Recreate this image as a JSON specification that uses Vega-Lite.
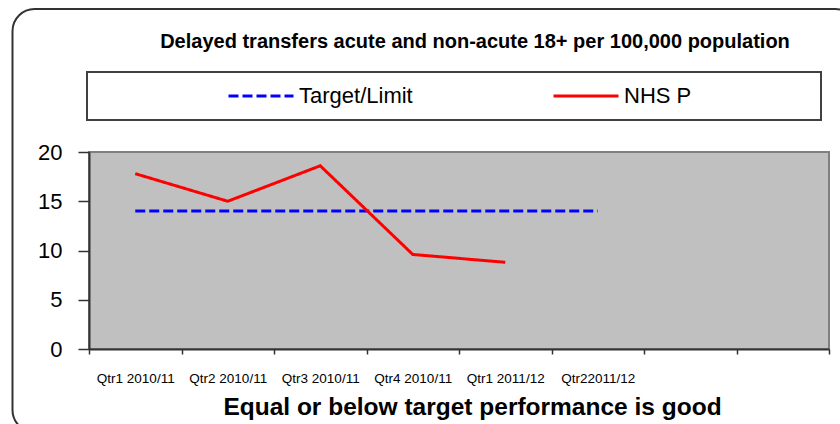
{
  "$schema": "https://vega.github.io/schema/vega-lite/v6.json",
  "width": 740,
  "height": 197,
  "autosize": "none",
  "padding": {"left": 89, "top": 152, "right": 11, "bottom": 75},
  "background": "white",
  "title": {
    "text": "Delayed transfers acute and non-acute 18+ per 100,000 population",
    "font": "Liberation Sans, Arial, sans-serif",
    "fontSize": 20,
    "fontWeight": "bold",
    "color": "#000000",
    "anchor": "middle",
    "dx": 16,
    "offset": -44
  },
  "data": {
    "values": [
      {"quarter": "Qtr1 2010/11", "series": "Target/Limit", "value": 14},
      {"quarter": "Qtr2 2010/11", "series": "Target/Limit", "value": 14},
      {"quarter": "Qtr3 2010/11", "series": "Target/Limit", "value": 14},
      {"quarter": "Qtr4 2010/11", "series": "Target/Limit", "value": 14},
      {"quarter": "Qtr1 2011/12", "series": "Target/Limit", "value": 14},
      {"quarter": "Qtr22011/12", "series": "Target/Limit", "value": 14},
      {"quarter": "Qtr1 2010/11", "series": "NHS P", "value": 17.8},
      {"quarter": "Qtr2 2010/11", "series": "NHS P", "value": 15.0},
      {"quarter": "Qtr3 2010/11", "series": "NHS P", "value": 18.6},
      {"quarter": "Qtr4 2010/11", "series": "NHS P", "value": 9.6},
      {"quarter": "Qtr1 2011/12", "series": "NHS P", "value": 8.8}
    ]
  },
  "encoding": {
    "x": {
      "field": "quarter",
      "type": "nominal",
      "sort": null,
      "scale": {
        "domain": ["Qtr1 2010/11", "Qtr2 2010/11", "Qtr3 2010/11", "Qtr4 2010/11", "Qtr1 2011/12", "Qtr22011/12", "q7", "q8"],
        "paddingInner": 0,
        "paddingOuter": 0
      },
      "axis": {
        "title": "Equal or below target performance  is good",
        "titleFont": "Liberation Sans, Arial, sans-serif",
        "titleFontSize": 24.5,
        "titleFontWeight": "bold",
        "titleColor": "#000000",
        "titlePadding": 11,
        "titleX": 383,
        "labelExpr": "indexof(datum.label, 'Qtr') == 0 ? datum.label : ''",
        "labelAngle": 0,
        "labelFont": "Liberation Sans, Arial, sans-serif",
        "labelFontSize": 13.5,
        "labelColor": "#000000",
        "labelPadding": 17,
        "tickBand": "extent",
        "tickSize": 5,
        "tickColor": "#333333",
        "tickWidth": 1.5,
        "domainColor": "#333333",
        "domainWidth": 2,
        "grid": false
      }
    },
    "y": {
      "field": "value",
      "type": "quantitative",
      "scale": {"domain": [0, 20], "nice": false},
      "axis": {
        "title": null,
        "values": [0, 5, 10, 15, 20],
        "labelFont": "Liberation Sans, Arial, sans-serif",
        "labelFontSize": 22,
        "labelColor": "#000000",
        "labelPadding": 16,
        "tickSize": 11,
        "tickColor": "#333333",
        "tickWidth": 1.5,
        "domainColor": "#333333",
        "domainWidth": 2,
        "grid": false
      }
    }
  },
  "layer": [
    {
      "mark": {"type": "line", "strokeWidth": 3},
      "encoding": {
        "color": {
          "field": "series",
          "type": "nominal",
          "scale": {"domain": ["Target/Limit", "NHS P"], "range": ["#0000FF", "#FF0000"]},
          "legend": {
            "title": "\u00a0",
            "labelExpr": "datum.label == 'NHS P' ? pad(datum.label, 24, '\u00a0') + '\u200b' : datum.label"
          }
        },
        "strokeDash": {
          "field": "series",
          "type": "nominal",
          "scale": {"domain": ["Target/Limit", "NHS P"], "range": [[10, 4], [1, 0]]},
          "legend": {
            "title": "\u00a0",
            "labelExpr": "datum.label == 'NHS P' ? pad(datum.label, 24, '\u00a0') + '\u200b' : datum.label"
          }
        }
      }
    },
    {
      "mark": {"type": "point", "opacity": 0},
      "encoding": {
        "shape": {
          "datum": "frame",
          "scale": {"range": ["square"]},
          "legend": {
            "title": null,
            "orient": "none",
            "legendX": -76.5,
            "legendY": -143,
            "padding": 0,
            "columns": 1,
            "symbolType": "square",
            "symbolSize": 714025,
            "symbolOpacity": 0,
            "symbolStrokeWidth": 0,
            "clipHeight": 423,
            "labelExpr": "''",
            "labelOffset": 0,
            "strokeColor": "#333333",
            "cornerRadius": 22,
            "fillColor": "transparent"
          }
        }
      }
    }
  ],
  "config": {
    "view": {"fill": "#C0C0C0", "stroke": "#808080", "strokeWidth": 2},
    "legend": {
      "orient": "none",
      "legendX": -2,
      "legendY": -80,
      "direction": "horizontal",
      "columns": 2,
      "columnPadding": 139,
      "padding": 13,
      "strokeColor": "#404040",
      "strokeWidth": 2,
      "fillColor": "#FFFFFF",
      "titleOrient": "left",
      "titleFontSize": 1,
      "titlePadding": 127,
      "symbolType": "stroke",
      "symbolSize": 4225,
      "symbolStrokeWidth": 3,
      "clipHeight": 22,
      "labelFont": "Liberation Sans, Arial, sans-serif",
      "labelFontSize": 22,
      "labelColor": "#000000",
      "labelOffset": 4,
      "labelLimit": 400
    }
  }
}
